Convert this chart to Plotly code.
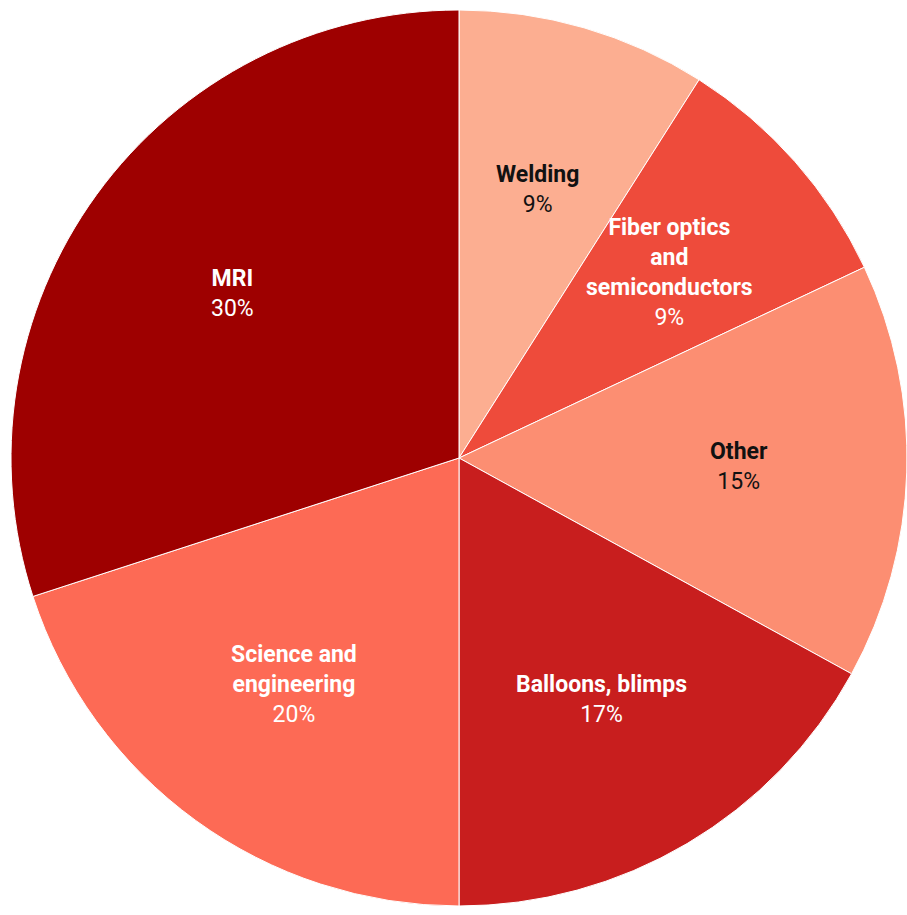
import math
import plotly.graph_objects as go

labels = ["Welding", "Fiber optics<br>and<br>semiconductors", "Other", "Balloons, blimps",
          "Science and<br>engineering", "MRI"]
values = [9, 9, 15, 17, 20, 30]
colors = ["#FCAE91", "#EE4B3B", "#FC8E72", "#C81E1E", "#FD6A55", "#9E0000"]
text_colors = ["#111111", "#FFFFFF", "#111111", "#FFFFFF", "#FFFFFF", "#FFFFFF"]

W, H = 907, 915
dom_x = [11 / W, 1]
dom_y = [9 / H, 905 / H]

fig = go.Figure(go.Pie(
    labels=labels,
    values=values,
    sort=False,
    direction="clockwise",
    rotation=0,
    marker=dict(colors=colors, line=dict(color="#FFFFFF", width=1)),
    textinfo="none",
    hoverinfo="label+percent",
    showlegend=False,
    domain=dict(x=dom_x, y=dom_y),
))

# label placement: mid-angle of each slice at a fraction of the radius
cx = (dom_x[0] + dom_x[1]) / 2
cy = (dom_y[0] + dom_y[1]) / 2
r_px = min((dom_x[1] - dom_x[0]) * W, (dom_y[1] - dom_y[0]) * H) / 2
frac = 0.625
total = sum(values)
cum = 0
for lab, v, tc in zip(labels, values, text_colors):
    mid = (cum + v / 2) / total * 2 * math.pi
    cum += v
    x = cx + frac * r_px * math.sin(mid) / W
    y = cy + frac * r_px * math.cos(mid) / H
    pct = round(v / total * 100)
    fig.add_annotation(
        x=x, y=y, xref="paper", yref="paper",
        xanchor="center", yanchor="middle", showarrow=False,
        text=f"<b>{lab}</b><br>{pct}%",
        font=dict(family="Roboto", size=23, color=tc),
        align="center",
    )

fig.update_layout(
    width=W, height=H,
    margin=dict(l=0, r=0, t=0, b=0),
    paper_bgcolor="white",
    font=dict(family="Roboto"),
)
fig.write_html("out.html")
